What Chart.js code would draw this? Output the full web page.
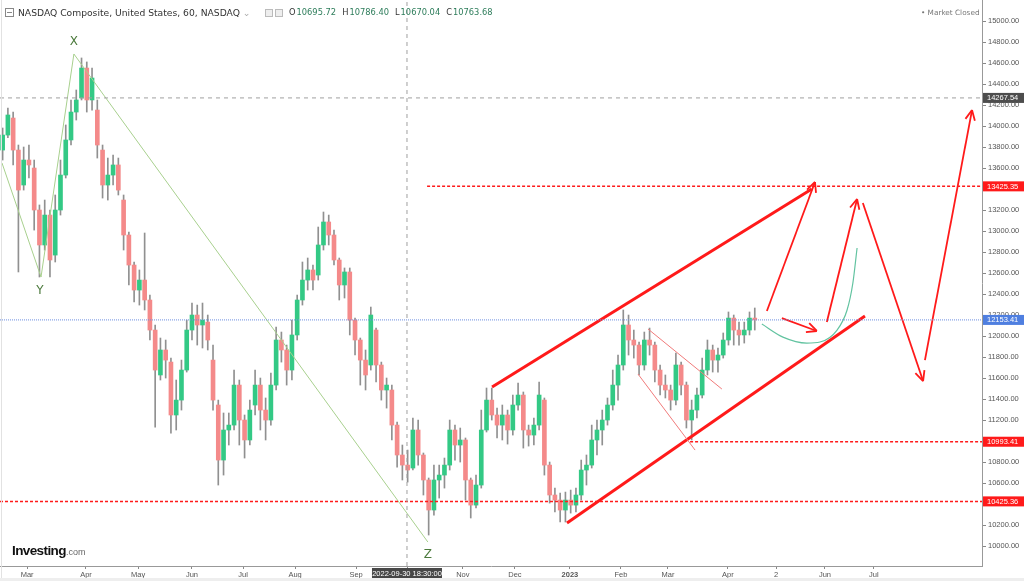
<!DOCTYPE html>
<html>
<head>
<meta charset="utf-8">
<script src="https://cdn.jsdelivr.net/npm/chart.js@4.4.0/dist/chart.umd.min.js"></script>
<style>
  body { margin: 0; background: #fff; overflow: hidden; }
  #wrap { position: relative; width: 1024px; height: 581px; font-family: "DejaVu Sans", sans-serif; }
  #c { position: absolute; left: 0; top: 0; }
  .head { position: absolute; left: 18px; top: 7px; font-size: 9.2px; color: #333; white-space: nowrap; }
  .icon { position: absolute; left: 5px; top: 8px; width: 7px; height: 7px; border: 1px solid #888; }
  .icon:after { content: ""; position: absolute; left: 1px; right: 1px; top: 3px; height: 1px; background: #888; }
  .sq { position: absolute; top: 9px; width: 6px; height: 6px; border: 1px solid #bbb; background: #eee; }
  .ohlc { position: absolute; left: 289px; top: 7px; font-size: 8.3px; color: #333; white-space: nowrap; }
  .ohlc b { font-weight: normal; color: #2e7d5b; margin-right: 6px; margin-left: 1px; }
  .closed { position: absolute; left: 921px; top: 8px; font-size: 7.3px; color: #777; white-space: nowrap; }
  .logo { position: absolute; left: 12px; top: 541px; white-space: nowrap; font-family: "Liberation Sans", sans-serif; }
  .logo b { font-size: 13.5px; color: #111; letter-spacing: -0.6px; }
  .logo span { font-size: 9px; color: #666; }
  .strip { position: absolute; left: 0; top: 578px; width: 1024px; height: 3px; background: #eee; }
  .edge { position: absolute; left: 1px; top: 0; width: 1px; height: 578px; background: #e2e2e2; }
</style>
</head>
<body>
<div id="wrap">
  <canvas id="c" width="1024" height="581"></canvas>
  <div class="edge"></div>
  <div class="icon"></div>
  <div class="head">NASDAQ Composite, United States, 60, NASDAQ <span style="color:#aaa">&#8964;</span></div>
  <div class="sq" style="left:265px"></div>
  <div class="sq" style="left:275px"></div>
  <div class="ohlc">O<b>10695.72</b>H<b>10786.40</b>L<b>10670.04</b>C<b>10763.68</b></div>
  <div class="closed">&#8226; Market Closed</div>
  <div class="logo"><b>Investing</b><span>.com</span></div>
  <div class="strip"></div>
</div>
<script>
// x axis is counted in trading days from the left edge, one candle = two trading days
const monthDays = [10.3, 32.7, 52.5, 73.0, 92.4, 112.2, 135.4, 154.8, 176.0, 195.8, 216.7, 236.1, 254.0, 276.8, 295.1, 313.7, 332.3];
const monthLabels = ["Mar", "Apr", "May", "Jun", "Jul", "Aug", "Sep", "Oct", "Nov", "Dec", "2023", "Feb", "Mar", "Apr", "2", "Jun", "Jul"];

const opens = [13771, 13914, 14076, 13771, 13438, 13676, 13600, 13200, 12867, 13152,
  12771, 13200, 13533, 13867, 14133, 14267, 14552, 14248, 14152, 13771,
  13438, 13533, 13629, 13295, 12962, 12676, 12438, 12533, 12343, 12057,
  11629, 11867, 11752, 11248, 11390, 11676, 12057, 12200, 12105, 12133,
  11771, 11343, 10819, 11105, 11152, 11533, 11200, 11010, 11343, 11533,
  11295, 11200, 11533, 11962, 11867, 11676, 12010, 12343, 12533, 12629,
  12581, 12867, 13086, 12962, 12724, 12486, 12610, 12152, 11962, 11771,
  11724, 12057, 11724, 11486, 11486, 11152, 10867, 10771, 10743, 11105,
  10867, 10629, 10343, 10629, 10676, 10771, 11105, 10962, 11010, 10629,
  10390, 10581, 11105, 11390, 11248, 11152, 11248, 11105, 11343, 11438,
  11105, 11057, 11152, 11390, 10771, 10486, 10438, 10343, 10438, 10390,
  10486, 10724, 10771, 11010, 11105, 11200, 11343, 11533, 11724, 12105,
  11962, 11914, 11724, 11962, 11914, 11676, 11533, 11486, 11390, 11724,
  11533, 11200, 11295, 11438, 11676, 11867, 11771, 11819, 11962, 12171,
  12057, 12010, 12057, 12171];
const highs = [13981, 14171, 14133, 13819, 13800, 13819, 13676, 13248, 13295, 13200,
  13343, 13676, 14010, 14248, 14343, 14648, 14610, 14552, 14248, 13819,
  13695, 13724, 13695, 13343, 12990, 12705, 12629, 12981, 12390, 12105,
  11981, 11962, 11790, 11581, 11771, 12152, 12314, 12295, 12314, 12200,
  11914, 11390, 11267, 11267, 11676, 11581, 11248, 11390, 11676, 11600,
  11410, 11648, 12086, 12038, 11914, 12152, 12390, 12705, 12743, 12676,
  13038, 13181, 13152, 13009, 12743, 12648, 12648, 12171, 11981, 11867,
  12276, 12076, 11752, 11600, 11533, 11181, 10962, 10914, 11219, 11200,
  10886, 10648, 10771, 10771, 10838, 11200, 11152, 11124, 11029, 10648,
  10676, 11295, 11505, 11505, 11314, 11343, 11295, 11438, 11552, 11467,
  11152, 11219, 11562, 11410, 10800, 10552, 10505, 10514, 10533, 10552,
  10819, 10867, 11152, 11200, 11295, 11410, 11676, 11819, 12248, 12200,
  12057, 11943, 12038, 12076, 11943, 11724, 11629, 11533, 11838, 11752,
  11562, 11390, 11505, 11790, 11962, 11914, 11886, 12029, 12229, 12200,
  12133, 12133, 12229, 12267];
const lows = [13676, 13890, 13629, 12610, 13390, 13505, 13009, 12562, 12819, 12562,
  12705, 13152, 13505, 13819, 14057, 14248, 14133, 14152, 13695, 13314,
  13295, 13438, 13343, 12819, 12486, 12324, 12295, 12248, 11962, 11133,
  11581, 11600, 11076, 11105, 11295, 11657, 11962, 11914, 11886, 11867,
  11295, 10581, 10676, 10962, 11105, 10962, 10838, 10962, 11248, 11105,
  11010, 11152, 11486, 11752, 11533, 11581, 11962, 12295, 12438, 12438,
  12533, 12819, 12867, 12676, 12343, 12362, 12010, 11819, 11533, 11486,
  11676, 11562, 11390, 11314, 11010, 10752, 10629, 10609, 10724, 10771,
  10486, 10105, 10295, 10457, 10552, 10724, 10819, 10800, 10438, 10267,
  10362, 10552, 11086, 11200, 11029, 11010, 10971, 11057, 11295, 10933,
  10952, 10962, 11105, 10676, 10409, 10324, 10229, 10229, 10314, 10324,
  10438, 10581, 10743, 10867, 10962, 11152, 11295, 11390, 11676, 11819,
  11790, 11629, 11676, 11819, 11562, 11438, 11410, 11295, 11343, 11438,
  11124, 11010, 11219, 11410, 11629, 11657, 11657, 11790, 11914, 11914,
  11914, 11933, 12010, 12057];
const closes = [13914, 14105, 13771, 13390, 13676, 13629, 13200, 12867, 13152, 12724,
  13200, 13533, 13867, 14133, 14248, 14552, 14248, 14457, 13819, 13438,
  13533, 13629, 13390, 12962, 12676, 12438, 12533, 12343, 12057, 11676,
  11867, 11771, 11248, 11390, 11676, 12057, 12200, 12105, 12152, 11962,
  11390, 10819, 11105, 11152, 11533, 11200, 11010, 11295, 11533, 11295,
  11200, 11533, 11962, 11867, 11676, 12010, 12343, 12533, 12629, 12533,
  12867, 13086, 12962, 12724, 12486, 12610, 12152, 11962, 11771, 11629,
  12200, 11724, 11486, 11533, 11152, 10867, 10771, 10724, 11105, 10867,
  10629, 10343, 10629, 10676, 10771, 11105, 10962, 11010, 10629, 10390,
  10581, 11105, 11390, 11248, 11152, 11248, 11105, 11343, 11438, 11105,
  11057, 11152, 11438, 10771, 10486, 10438, 10343, 10438, 10390, 10486,
  10724, 10771, 11010, 11105, 11200, 11343, 11533, 11724, 12105, 11962,
  11914, 11724, 11962, 11914, 11676, 11533, 11486, 11390, 11724, 11533,
  11200, 11295, 11438, 11676, 11867, 11771, 11819, 11962, 12171, 12057,
  12010, 12057, 12171, 12153.41];

// drawings, as [trading day, price]
const waveXYZ = [[0.76, 13648], [15.6, 12562], [28.1, 14686], [162.7, 10038]];
const waveLabels = [["X", 28.1, 14800], ["Y", 15.2, 12430], ["Z", 162.7, 9915]];
const channelTop = [[187.1, 11514], [308.7, 13400]];
const channelBottom = [[215.6, 10219], [328.9, 12190]];
const arrowUp1 = [[291.6, 12238], [309.9, 13467]];
const arrowRight = [[297.3, 12171], [310.6, 12048]];
const arrowUp2 = [[314.4, 12133], [325.9, 13305]];
const arrowDown = [[328.1, 13267], [351.0, 11571]];
const arrowUp3 = [[351.7, 11771], [369.6, 14152]];
const cupCurve = [[289.7, 12114], [297.7, 11990], [306.8, 11933], [311.8, 11943], [318.3, 12057], [322.1, 12248], [324.3, 12505], [325.9, 12838]];
const flagTop = [[246.4, 12067], [274.5, 11495]];
const flagBottom = [[242.6, 11638], [264.3, 10914]];
const levelHigh = 13425.35, levelMid = 10993.41, levelLow = 10425.36;
const lastPrice = 12153.41, cursorPrice = 14267.54;
const cursorDay = 154.75, cursorLabel = "2022-09-30 18:30:00";
const xMax = 373.4, yMin = 9810, yMax = 15200;

const priceTags = [
  [cursorPrice, "#4d4d4d"],
  [levelHigh, "#ff1a1a"],
  [lastPrice, "#4f7fe0"],
  [levelMid, "#ff1a1a"],
  [levelLow, "#ff1a1a"]
];

const up_color = "#33c985", down_color = "#f48a8a";
const candleDays = opens.map((_, i) => 1 + 2 * i);
const candleColor = opens.map((o, i) => closes[i] >= o ? up_color : down_color);

const seg = (pts, color, width, dash, extra) => Object.assign({
  type: "line",
  data: pts.map((p) => ({ x: p[0], y: p[1] })),
  borderColor: color,
  borderWidth: width,
  borderDash: dash || [],
  pointRadius: 0,
  fill: false,
  order: 1,
}, extra || {});

const RED = "#ff1a1a";
const datasets = [
  {
    label: "wicks",
    data: candleDays.map((d, i) => ({ x: d, y: [lows[i], highs[i]] })),
    backgroundColor: "rgba(125,125,125,0.85)",
    barThickness: 1,
    grouped: false,
    order: 10,
  },
  {
    label: "bodies",
    data: candleDays.map((d, i) => ({ x: d, y: [opens[i], closes[i]] })),
    backgroundColor: candleColor,
    barThickness: 4,
    minBarLength: 1,
    grouped: false,
    order: 9,
  },
  seg([[0, cursorPrice], [xMax, cursorPrice]], "#a0a0a0", 1, [4, 4]),
  seg([[cursorDay, yMin], [cursorDay, yMax]], "#a0a0a0", 1, [4, 4]),
  seg([[0, lastPrice], [xMax, lastPrice]], "#6d8fe0", 1, [1, 1]),
  seg([[162.4, levelHigh], [xMax, levelHigh]], RED, 1.5, [3, 2]),
  seg([[262.4, levelMid], [xMax, levelMid]], RED, 1.5, [3, 2]),
  seg([[0, levelLow], [xMax, levelLow]], RED, 1.5, [3, 2]),
  seg(waveXYZ, "#a8d08e", 1),
  seg(flagTop, "#f07a7a", 1),
  seg(flagBottom, "#f07a7a", 1),
  seg(cupCurve, "#62c3a0", 1.2, [], { tension: 0.4, cubicInterpolationMode: "monotone" }),
  seg(channelTop, RED, 3),
  seg(channelBottom, RED, 3),
  seg(arrowUp1, RED, 1.8, [], { arrow: true }),
  seg(arrowRight, RED, 1.8, [], { arrow: true }),
  seg(arrowUp2, RED, 1.8, [], { arrow: true }),
  seg(arrowDown, RED, 1.8, [], { arrow: true }),
  seg(arrowUp3, RED, 1.8, [], { arrow: true }),
];

const arrowHeads = {
  id: "arrowHeads",
  afterDatasetsDraw(chart) {
    const ctx = chart.ctx;
    chart.data.datasets.forEach((ds, i) => {
      if (!ds.arrow) return;
      const pts = chart.getDatasetMeta(i).data;
      const a = pts[pts.length - 2], b = pts[pts.length - 1];
      const ang = Math.atan2(b.y - a.y, b.x - a.x);
      ctx.save();
      ctx.strokeStyle = ds.borderColor;
      ctx.lineWidth = ds.borderWidth;
      ctx.beginPath();
      [-1, 1].forEach((s) => {
        ctx.moveTo(b.x, b.y);
        ctx.lineTo(b.x - 11 * Math.cos(ang + s * 0.45), b.y - 11 * Math.sin(ang + s * 0.45));
      });
      ctx.stroke();
      ctx.restore();
    });
  },
};

const marks = {
  id: "marks",
  afterDraw(chart) {
    const ctx = chart.ctx, xs = chart.scales.x, ys = chart.scales.y;
    ctx.save();
    // wave letters
    ctx.fillStyle = "#4b7a3c";
    ctx.font = "12px 'DejaVu Sans'";
    ctx.textAlign = "center";
    ctx.textBaseline = "middle";
    waveLabels.forEach(([t, d, p]) => ctx.fillText(t, xs.getPixelForValue(d), ys.getPixelForValue(p)));
    // price tags on the right axis
    ctx.font = "7.5px 'Liberation Sans'";
    ctx.textAlign = "left";
    priceTags.forEach(([v, col]) => {
      const y = ys.getPixelForValue(v);
      ctx.fillStyle = col;
      ctx.fillRect(ys.left + 1, y - 5, 41, 10);
      ctx.fillStyle = "#fff";
      ctx.fillText(v.toFixed(2), ys.left + 5, y + 0.5);
    });
    // cursor date tag
    const cx = xs.getPixelForValue(cursorDay);
    ctx.fillStyle = "#474747";
    ctx.fillRect(cx - 35, xs.top + 2, 70, 11);
    ctx.fillStyle = "#fff";
    ctx.textAlign = "center";
    ctx.fillText(cursorLabel, cx, xs.top + 8);
    ctx.restore();
  },
};

const noPad = (s) => { s.paddingTop = 0; s.paddingBottom = 0; s.paddingLeft = 0; s.paddingRight = 0; };

new Chart(document.getElementById("c"), {
  type: "bar",
  data: { datasets: datasets },
  options: {
    responsive: false,
    animation: false,
    devicePixelRatio: 1,
    layout: { padding: 0 },
    plugins: { legend: { display: false }, tooltip: { enabled: false } },
    scales: {
      x: {
        type: "linear",
        min: 0,
        max: xMax,
        offset: false,
        afterBuildTicks: (s) => { s.ticks = monthDays.map((v) => ({ value: v })); },
        afterFit: (s) => { s.height = 15; noPad(s); },
        ticks: {
          autoSkip: false,
          maxRotation: 0,
          padding: 1,
          color: "#555",
          font: (c) => ({ family: "Liberation Sans", size: 7.5, weight: monthLabels[c.index] === "2023" ? "bold" : "normal" }),
          callback: (v, i) => monthLabels[i],
        },
        grid: { drawOnChartArea: false, offset: false, tickLength: 3, color: "#888" },
        border: { color: "#999" },
      },
      y: {
        position: "right",
        min: yMin,
        max: yMax,
        afterBuildTicks: (s) => {
          const t = [];
          for (let v = 10000; v <= 15000; v += 200) t.push({ value: v });
          s.ticks = t;
        },
        afterFit: (s) => { s.width = 42; noPad(s); },
        ticks: {
          padding: 2,
          color: "#555",
          font: { family: "Liberation Sans", size: 7.5 },
          callback: (v) => Number(v).toFixed(2),
        },
        grid: { drawOnChartArea: false, tickLength: 4, color: "#888" },
        border: { color: "#999" },
      },
    },
  },
  plugins: [arrowHeads, marks],
});
</script>
</body>
</html>
